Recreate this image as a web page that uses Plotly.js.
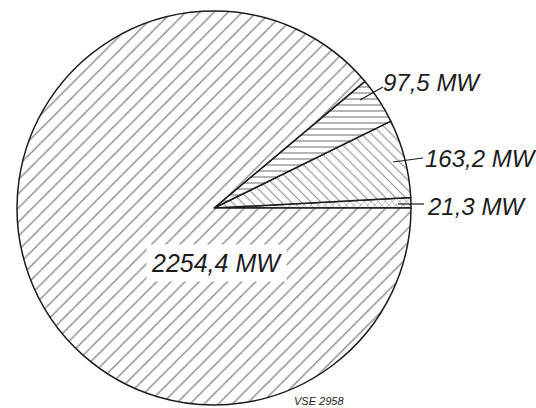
<!DOCTYPE html>
<html>
<head>
<meta charset="utf-8">
<script src="https://cdn.plot.ly/plotly-3.0.1.min.js"></script>
<style>html,body{margin:0;padding:0;background:#fff;}#chart{width:536px;height:408px;}</style>
</head>
<body>
<div id="chart"></div>
<script>
// Data (MW), in drawing order counter-clockwise from 3 o'clock
const sliceLabels = ["21,3 MW", "163,2 MW", "97,5 MW", "2254,4 MW"];
const sliceValues = [21.3, 163.2, 97.5, 2254.4];
const slicePatterns = ["x", "\\", "-", "/"];
const slicePatternSizes = [5, 7, 6, 10];
const slicePatternSolidity = [0.22, 0.16, 0.22, 0.15];
const drawingCode = "VSE 2958";

const ink = "#1c1c1c";
const fontFam = "Liberation Sans, Arial, sans-serif";

// Plotly (counterclockwise) puts the boundary after the first slice at `rotation`;
// shift so the first slice starts exactly at 3 o'clock.
const total = sliceValues.reduce((a, b) => a + b, 0);
const rot = 90 - sliceValues[0] / total * 360;

const trace = {
  type: "pie",
  values: sliceValues,
  labels: sliceLabels,
  sort: false,
  direction: "counterclockwise",
  rotation: rot,
  textinfo: "none",
  hoverinfo: "none",
  showlegend: false,
  domain: {x: [0.0299, 0.7687], y: [0.0074, 0.9730]},
  marker: {
    colors: ["#ffffff", "#ffffff", "#ffffff", "#ffffff"],
    line: {color: ink, width: 1.5},
    pattern: {
      shape: slicePatterns,
      size: slicePatternSizes,
      solidity: slicePatternSolidity,
      fgcolor: ink,
      bgcolor: "#ffffff",
      fillmode: "overlay"
    }
  }
};

function px(x) { return x / 536; }
function py(y) { return 1 - y / 408; }

const lbl = (text, x, y, size, extra) => Object.assign({
  text: text, xref: "paper", yref: "paper", x: px(x), y: py(y),
  xanchor: "left", yanchor: "middle", showarrow: false,
  font: {family: fontFam, size: size, color: ink, style: "italic"}
}, extra || {});

const annotations = [
  lbl(sliceLabels[2], 381, 83, 24),
  lbl(sliceLabels[1], 423, 159, 24),
  lbl(sliceLabels[0], 425, 206, 24),
  lbl(sliceLabels[3], 216, 263, 25, {xanchor: "center", bgcolor: "#ffffff", borderpad: 4}),
  lbl(drawingCode, 292, 401, 11)
];

const line = (x0, y0, x1, y1) => ({
  type: "line", xref: "paper", yref: "paper",
  x0: px(x0), y0: py(y0), x1: px(x1), y1: py(y1),
  line: {color: ink, width: 1.2}
});

const shapes = [
  line(360, 100, 383, 87),
  line(393, 162, 423, 158),
  line(398, 204, 424, 204)
];

const layout = {
  width: 536, height: 408,
  margin: {l: 0, r: 0, t: 0, b: 0},
  paper_bgcolor: "#ffffff",
  plot_bgcolor: "#ffffff",
  annotations: annotations,
  shapes: shapes
};

Plotly.newPlot("chart", [trace], layout, {staticPlot: true, displayModeBar: false});
</script>
</body>
</html>
